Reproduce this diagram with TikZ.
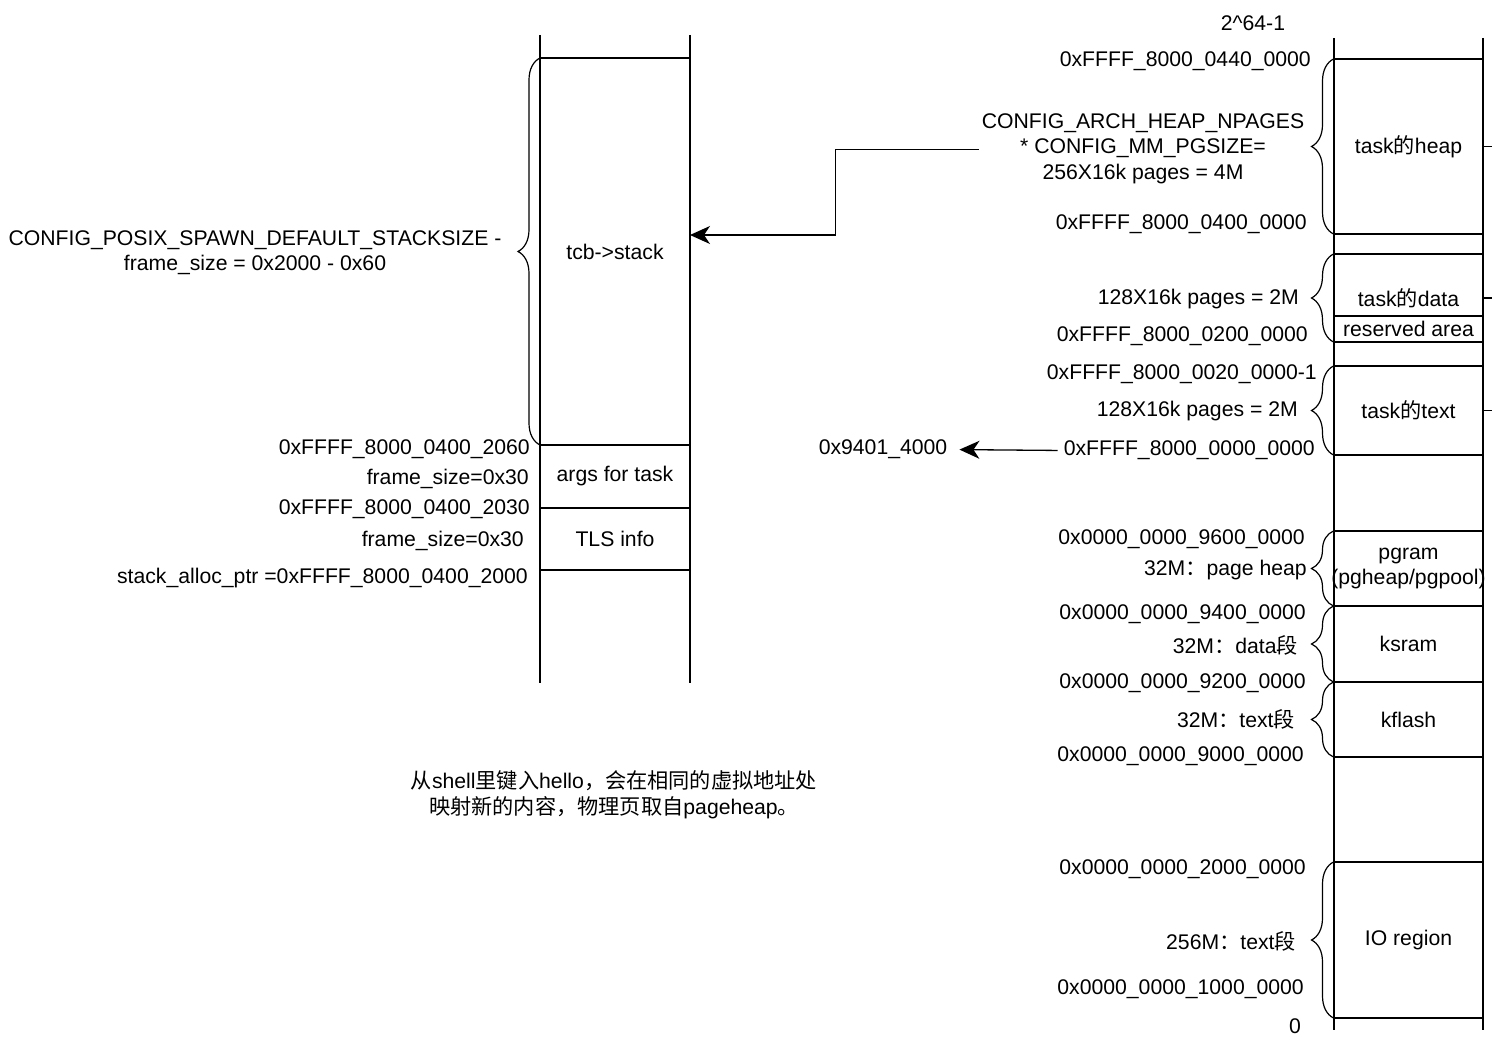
\documentclass[tikz,border=0pt]{standalone}
\usepackage{fontspec}
\setmainfont{Liberation Sans}
\newfontfamily\cjk{Noto Sans CJK SC}
\usetikzlibrary{positioning,arrows.meta,decorations.pathreplacing}
\newcommand{\zh}[1]{{\cjk #1}}
\tikzset{
  seg/.style={draw, line width=1.3pt, minimum width=150pt, inner sep=0pt, outer sep=0pt, align=center},
  rail/.style={line width=1.3pt},
  txt/.style={inner sep=0pt, yshift=-2.5pt, align=center},
  lbl/.style={txt, anchor=east},
  brc/.style={decorate, decoration={brace, amplitude=22pt}, line width=1.2pt},
  arr/.style={line width=1.3pt, -{Stealth[length=20pt, width=18pt, inset=6pt]}},
}
\begin{document}
\begin{tikzpicture}[x=1pt, y=-1pt, font=\fontsize{21.2}{25.5}\selectfont]
  \useasboundingbox (0,0) rectangle (1492,1049);

  % Stack of the task
  \draw[rail] (540,35) -- (540,683);
  \draw[rail] (690,35) -- (690,683);
  \node[seg, minimum height=387pt] (stack) at (615,251.5) {tcb->stack};
  \node[seg, minimum height=63pt] (args) at (615,476.5) {args for task};
  \node[seg, minimum height=62pt] (tls) at (615,539) {TLS info};
  \coordinate (stackin) at (690,235);
  \draw[brc] (stack.south west) -- (stack.north west);
  \node[txt] (stacksize) at (255,250)
    {CONFIG\_POSIX\_SPAWN\_DEFAULT\_STACKSIZE -\\frame\_size = 0x2000 - 0x60};

  \foreach \x/\y/\name [count=\i] in {530/447/0xFFFF\_8000\_0400\_2060, 529/476/frame\_size=0x30,
      530/507/0xFFFF\_8000\_0400\_2030, 524/538/frame\_size=0x30,
      528/576/stack\_alloc\_ptr =0xFFFF\_8000\_0400\_2000} {
    \node[lbl] (la\i) at (\x,\y) {\name};
  }

  \node[txt] (note) at (614,792)
    {\zh{从}shell\zh{里键入}hello\zh{，会在相同的虚拟地址处}\\\zh{映射新的内容，物理页取自}pageheap\zh{。}};

  % Address space
  \draw[rail] (1334,38) -- (1334,1030);
  \draw[rail] (1483,38) -- (1483,1030);
  \node[seg, minimum height=175pt] (heap) at (1408.5,146.5) {task\zh{的}heap};
  \node[seg, minimum height=88pt] (data) at (1408.5,298) {task\zh{的}data};
  \node[seg, minimum height=26pt] (resv) at (1408.5,329) {reserved area};
  \node[seg, minimum height=89pt] (text) at (1408.5,410.5) {task\zh{的}text};
  \node[seg, minimum height=75pt] (pgram) at (1408.5,568.5)
    {\makebox[0pt]{pgram}\\\makebox[0pt]{(pgheap/pgpool)}};
  \node[seg, minimum height=76pt] (ksram) at (1408.5,644) {ksram};
  \node[seg, minimum height=75pt] (kflash) at (1408.5,719.5) {kflash};
  \node[seg, minimum height=156pt] (io) at (1408.5,940) {IO region};

  \draw[brc] (heap.south west) -- (heap.north west);
  \draw[brc] (resv.south west) -- (data.north west);
  \foreach \s in {text, pgram, ksram, kflash, io} {
    \draw[brc] (\s.south west) -- (\s.north west);
  }
  \foreach \s in {heap, data, text} {
    \draw[rail] (\s.east) -- ++(10,0);
  }

  \node[txt] (top) at (1253,21) {2\textasciicircum 64-1};
  \node[txt] (heapnote) at (1143,146)
    {CONFIG\_ARCH\_HEAP\_NPAGES\\* CONFIG\_MM\_PGSIZE=\\256X16k pages = 4M};

  \foreach \x/\y/\name [count=\i] in {1311/59/0xFFFF\_8000\_0440\_0000, 1307/222/0xFFFF\_8000\_0400\_0000,
      1299/297/128X16k pages = 2M, 1308/334/0xFFFF\_8000\_0200\_0000,
      1317/372/0xFFFF\_8000\_0020\_0000-1, 1298/409/128X16k pages = 2M,
      1305/537/0x0000\_0000\_9600\_0000, 1307/568/32M\zh{：}page heap,
      1306/612/0x0000\_0000\_9400\_0000, 1298/643/32M\zh{：}data\zh{段},
      1306/681/0x0000\_0000\_9200\_0000, 1295/717/32M\zh{：}text\zh{段},
      1304/754/0x0000\_0000\_9000\_0000, 1306/867/0x0000\_0000\_2000\_0000,
      1296/939/256M\zh{：}text\zh{段}, 1304/987/0x0000\_0000\_1000\_0000, 1301/1024/0} {
    \node[lbl] (ra\i) at (\x,\y) {\name};
  }

  \node[lbl] (kbase) at (1315,448) {0xFFFF\_8000\_0000\_0000};
  \node[txt] (vaddr) at (883,447) {0x9401\_4000};

  % Arrows
  \draw[arr] (heapnote.west) ++(-3,1) -- ++(-143,0) |- (stackin);
  \draw[arr, shorten <=6pt, shorten >=12pt] (kbase.west) -- (vaddr.east);
\end{tikzpicture}
\end{document}
